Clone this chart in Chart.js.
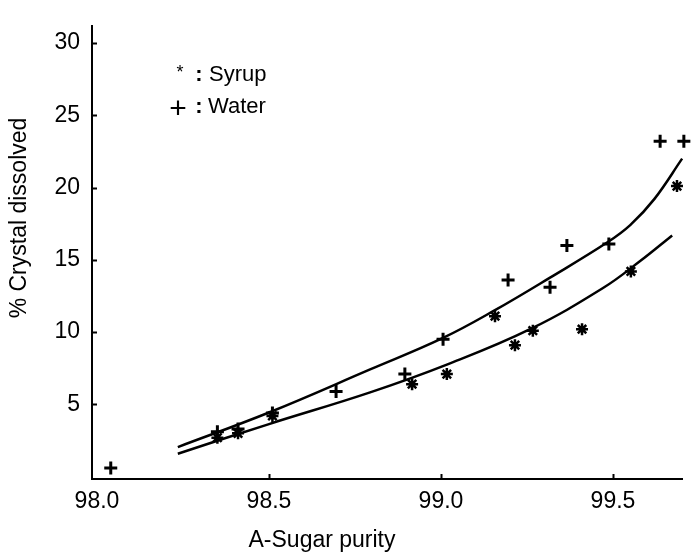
<!DOCTYPE html>
<html><head><meta charset="utf-8">
<script src="https://cdn.jsdelivr.net/npm/chart.js@4/dist/chart.umd.min.js"></script>
<style>html,body{margin:0;padding:0;background:#fff;} #wrap{width:693px;height:553px;position:relative;}</style>
</head><body><div id="wrap"><canvas id="c" width="693" height="553"></canvas></div>
<script>
// ---- data ----
const xTickValues = [98.0, 98.5, 99.0, 99.5];
const yTickValues = [5, 10, 15, 20, 25, 30];
const xTitle = 'A-Sugar purity';
const yTitle = '% Crystal dissolved';
const legendSyrup = 'Syrup';
const legendWater = 'Water';

const waterX = [98.04, 98.35, 98.41, 98.51, 98.695, 98.895, 99.006, 99.195, 99.317, 99.366, 99.488, 99.637, 99.706];
const waterY = [0.6, 3.1, 3.3, 4.4, 5.9, 7.1, 9.5, 13.6, 13.1, 16.0, 16.1, 23.2, 23.2];
const syrupX = [98.35, 98.41, 98.51, 98.916, 99.017, 99.157, 99.215, 99.267, 99.41, 99.552, 99.686];
const syrupY = [2.7, 3.0, 4.2, 6.4, 7.1, 11.1, 9.1, 10.1, 10.2, 14.2, 20.1];
const waterFitX = [98.235, 98.5, 98.794, 99.006, 99.157, 99.317, 99.485, 99.55, 99.62, 99.701];
const waterFitY = [2.05, 4.44, 7.42, 9.60, 11.52, 13.77, 16.23, 17.4, 19.2, 22.0];
const syrupFitX = [98.235, 98.5, 98.794, 99.017, 99.259, 99.471, 99.578, 99.672];
const syrupFitY = [1.59, 3.64, 5.83, 7.75, 10.20, 13.05, 14.90, 16.69];

const zip = (xs, ys) => xs.map((x, i) => ({x: x, y: ys[i]}));
const FONT = "'Liberation Sans', Arial, Helvetica, sans-serif";

const decor = {
  id: 'decor',
  afterDraw(chart) {
    const ctx = chart.ctx;
    const xs = chart.scales.x, ys = chart.scales.y;
    const area = chart.chartArea;
    ctx.save();
    ctx.strokeStyle = '#000';
    ctx.lineWidth = 2;
    // inward tick marks
    yTickValues.forEach(v => {
      const py = Math.round(ys.getPixelForValue(v)) + 0.5;
      ctx.beginPath(); ctx.moveTo(area.left, py); ctx.lineTo(area.left + 5, py); ctx.stroke();
    });
    xTickValues.forEach(v => {
      if (v <= xs.min + 0.05) return;
      const px = Math.round(xs.getPixelForValue(v)) + 0.5;
      ctx.beginPath(); ctx.moveTo(px, area.bottom); ctx.lineTo(px, area.bottom - 5); ctx.stroke();
    });
    ctx.fillStyle = '#000';
    // axis titles
    ctx.font = '23px ' + FONT;
    ctx.textAlign = 'center';
    ctx.textBaseline = 'middle';
    ctx.fillText(xTitle, 322, 541);
    ctx.save();
    ctx.translate(20, 218);
    ctx.rotate(-Math.PI / 2);
    ctx.fillText(yTitle, 0, 0);
    ctx.restore();
    // legend
    ctx.textBaseline = 'alphabetic';
    ctx.textAlign = 'center';
    ctx.font = '18px ' + FONT;
    ctx.fillText('*', 180, 78);
    ctx.font = '30px ' + FONT;
    ctx.fillText('+', 178, 118);
    ctx.font = 'bold 22px ' + FONT;
    ctx.fillText(':', 199, 81);
    ctx.fillText(':', 199, 113);
    ctx.font = '22px ' + FONT;
    ctx.textAlign = 'left';
    ctx.fillText(legendSyrup, 209, 81);
    ctx.fillText(legendWater, 208, 113);
    ctx.restore();
  }
};

new Chart(document.getElementById('c'), {
  type: 'scatter',
  data: {
    datasets: [
      {label: 'Water fit', type: 'line', showLine: true, data: zip(waterFitX, waterFitY), clip: false,
       borderColor: '#000', borderWidth: 2.5, pointRadius: 0, fill: false, tension: 0.4},
      {label: 'Syrup fit', type: 'line', showLine: true, data: zip(syrupFitX, syrupFitY), clip: false,
       borderColor: '#000', borderWidth: 2.5, pointRadius: 0, fill: false, tension: 0.4},
      {label: legendWater, data: zip(waterX, waterY), pointStyle: 'cross', pointRadius: 6.5, clip: false,
       borderColor: '#000', backgroundColor: '#000', borderWidth: 3},
      {label: legendSyrup, data: zip(syrupX, syrupY), pointStyle: 'star', pointRadius: 6, clip: false,
       borderColor: '#000', backgroundColor: '#000', borderWidth: 2.5}
    ]
  },
  options: {
    responsive: false,
    animation: false,
    layout: {padding: {top: 5, right: 11, left: 0, bottom: 0}},
    plugins: {legend: {display: false}, tooltip: {enabled: false}},
    scales: {
      x: {
        type: 'linear', min: 97.9855, max: 99.7006,
        afterBuildTicks: s => { s.ticks = xTickValues.map(v => ({value: v})); },
        afterFit: s => { s.height = 74; },
        grid: {display: false, drawTicks: false},
        border: {display: true, color: '#000', width: 2},
        ticks: {color: '#000', font: {family: FONT, size: 23}, padding: 9, maxRotation: 0,
                callback: v => Number(v).toFixed(1)}
      },
      y: {
        type: 'linear', min: -0.16, max: 31.19,
        afterBuildTicks: s => { s.ticks = yTickValues.map(v => ({value: v})); },
        afterFit: s => { s.width = 92; },
        grid: {display: false, drawTicks: false},
        border: {display: true, color: '#000', width: 2},
        ticks: {color: '#000', font: {family: FONT, size: 23}, padding: 12,
                callback: v => String(v)}
      }
    }
  },
  plugins: [decor]
});
</script>
</body></html>
